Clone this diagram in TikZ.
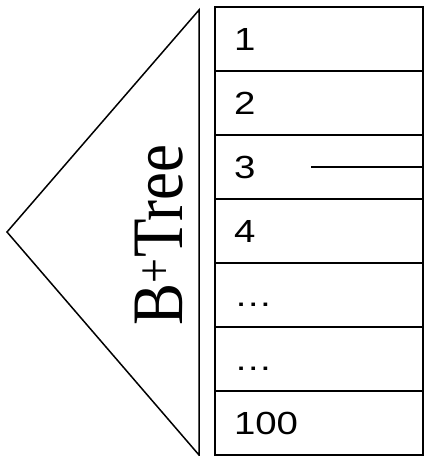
\documentclass[tikz,border=0pt]{standalone}
\usepackage{fontspec}
\setmainfont{Liberation Serif}
\setsansfont{Liberation Sans}
\usetikzlibrary{positioning}
\newcommand{\widetext}[1]{\scalebox{1.2}[1]{#1}}
\newcommand{\talltext}[1]{\scalebox{1}[1.15]{#1}}

\begin{document}
\begin{tikzpicture}[x=1pt, y=1pt, node distance=0pt and 0pt, line width=1.5pt, cell/.style={draw, outer sep=0pt, minimum width=208pt, minimum height=64pt, text width=170pt, inner xsep=19pt, align=left, text height=23pt, text depth=0pt, font=\sffamily\fontsize{32}{38}\selectfont}, treelabel/.style={rotate=90, anchor=base, inner sep=0pt, font=\rmfamily\fontsize{63}{70}\selectfont}]
\useasboundingbox (0,0) rectangle (424,456);
\node[cell, anchor=north west] (r1) at (215,449) {\widetext{1}};
\node[cell, below=of r1] (r2) {\widetext{2}};
\node[cell, below=of r2] (r3) {\widetext{3}};
\node[cell, below=of r3] (r4) {\widetext{4}};
\node[cell, below=of r4] (r5) {\widetext{…}};
\node[cell, below=of r5] (r6) {\widetext{…}};
\node[cell, below=of r6] (r7) {\widetext{100}};
\coordinate (top) at (199,446);
\coordinate (apex) at (7,224);
\coordinate (bottom) at (199,1);
\draw (top) -- (apex) -- (bottom) -- cycle;
\node[treelabel] (tree) at (182,221) {\talltext{B\textsuperscript{+}Tree}};
\coordinate (ptr) at ([xshift=-112pt]r3.east);
\draw (ptr) -- (r3.east);
\end{tikzpicture}
\end{document}
